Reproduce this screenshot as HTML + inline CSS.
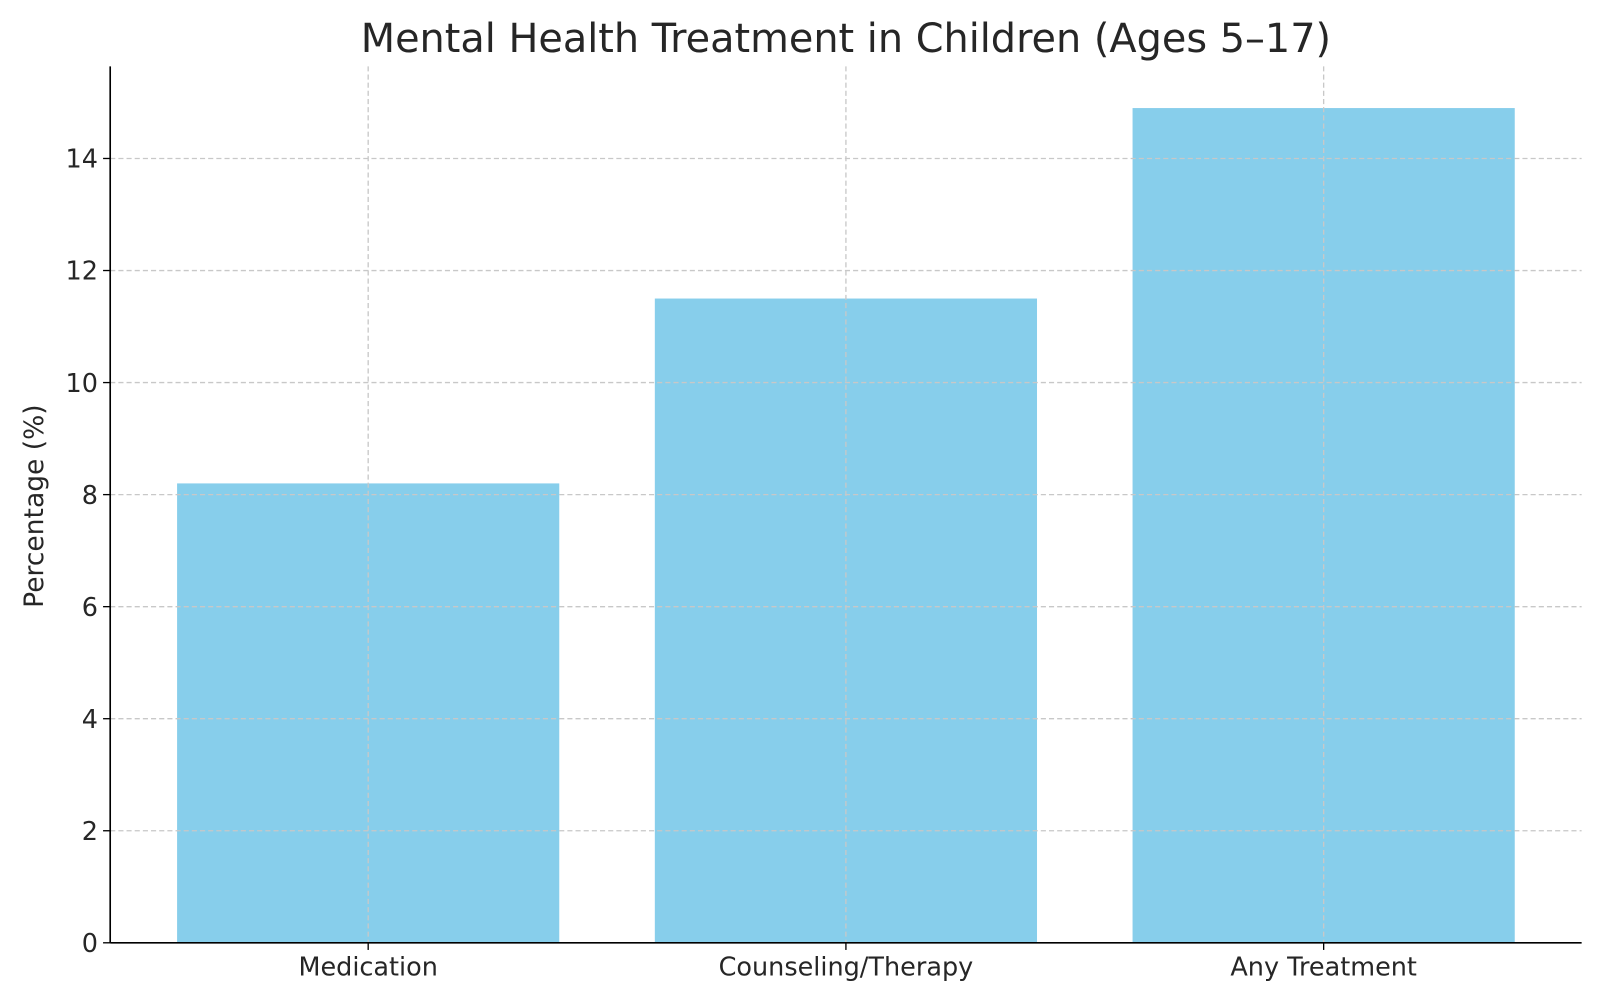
<!DOCTYPE html>
<html><head><meta charset="utf-8"><style>
body{margin:0;background:#fff}
svg{display:block;font-family:"DejaVu Sans","Liberation Sans",sans-serif}
</style></head><body>
<svg id="chart" width="1600" height="1003" viewBox="0 0 1568 983" preserveAspectRatio="none">
<rect width="1568" height="983" fill="#fff"/>
<text x="829" y="51" text-anchor="middle" font-size="39" fill="#262626">Mental Health Treatment in Children (Ages 5–17)</text>
<text transform="translate(42,496) rotate(-90)" text-anchor="middle" font-size="26" fill="#262626">Percentage (%)</text>
<g id="bars"></g><g id="grid"></g><g id="axes"></g>
</svg>
<script>
const categories = ["Medication", "Counseling/Therapy", "Any Treatment"];
const values = [8.2, 11.5, 14.9];
const yTicks = [0, 2, 4, 6, 8, 10, 12, 14];
const NS = "http://www.w3.org/2000/svg";
const L = 108, R = 1550, T = 65, B = 924;
const yMax = 15.645, xMin = -0.54, xMax = 2.54;
const y = v => B - (v / yMax) * (B - T);
const x = i => L + (i - xMin) / (xMax - xMin) * (R - L);
const bw = 0.8 * (R - L) / (xMax - xMin);
function mk(tag, attrs, parent) { const e = document.createElementNS(NS, tag); for (const k in attrs) e.setAttribute(k, attrs[k]); parent.appendChild(e); return e; }
const grid = document.getElementById("grid"), bars = document.getElementById("bars"), axes = document.getElementById("axes");
yTicks.forEach(t => {
  if (t > 0) {
    const g = mk("line", {x1: L, x2: R, y1: y(t), y2: y(t), stroke: "#c8c8c8", "stroke-width": 1.3, "stroke-dasharray": "5,3"}, grid);
    
    
  }
  const tk = mk("line", {x1: L - 7, x2: L, y1: y(t), y2: y(t), stroke: "#000", "stroke-width": 1.3}, axes);
  
  
  const lb = mk("text", {x: L - 12, y: y(t) + 9, "text-anchor": "end", "font-size": 25, fill: "#262626"}, axes);
  lb.textContent = t;
  
  
});
categories.forEach((c, i) => {
  const b = mk("rect", {x: x(i) - bw / 2, y: y(values[i]), width: bw, height: B - y(values[i]), fill: "#87ceeb"}, bars);
  
  
  const g = mk("line", {x1: x(i), x2: x(i), y1: T, y2: B, stroke: "#c8c8c8", "stroke-width": 1.3, "stroke-dasharray": "5,3"}, grid);
  
  
  const tk = mk("line", {x1: x(i), x2: x(i), y1: B, y2: B + 7, stroke: "#000", "stroke-width": 1.3}, axes);
  
  
  const lb = mk("text", {x: x(i), y: B + 32, "text-anchor": "middle", "font-size": 25, fill: "#262626"}, axes);
  lb.textContent = c;
  
  
});
const la = mk("line", {x1: L, x2: L, y1: T, y2: B, stroke: "#000", "stroke-width": 1.6}, axes);


const ba = mk("line", {x1: L, x2: R, y1: B, y2: B, stroke: "#000", "stroke-width": 1.6}, axes);


</script>
</body></html>
